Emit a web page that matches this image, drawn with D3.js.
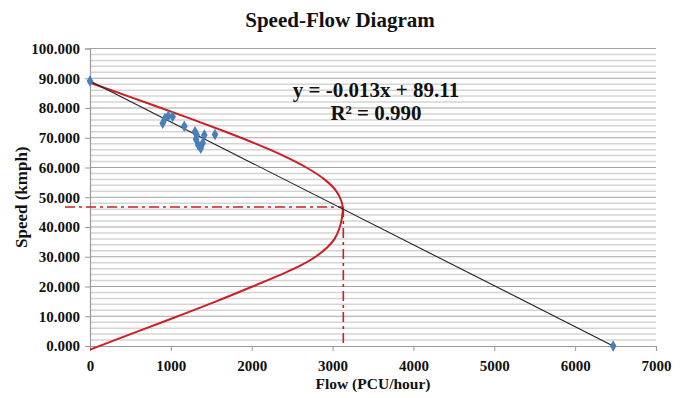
<!DOCTYPE html>
<html>
<head>
<meta charset="utf-8">
<script src="https://cdn.jsdelivr.net/npm/d3@7"></script>
<style>
  body { margin: 0; background: #fff; }
  text { font-family: "Liberation Serif", "Times New Roman", serif; font-weight: bold; fill: #111; }
</style>
</head>
<body>
<div id="chart"></div>
<script>
// observed points (flow PCU/hour, speed kmph)
const obsFlow  = [0, 899, 927, 968, 1022, 1166, 1299, 1320, 1311, 1339, 1369, 1394, 1414, 1546, 6470];
const obsSpeed = [89.1, 74.9, 76.5, 77.3, 77.1, 73.9, 72.0, 70.9, 69.5, 67.6, 66.5, 68.2, 70.9, 71.1, 0];

// linear trend line ends
const trendFlow  = [0, 6470];
const trendSpeed = [89.11, 0];

// red speed-flow curve, read from top branch down to bottom branch
const curveFlow  = [0, 468, 880, 1284, 1676, 2048, 2388, 2676, 2900, 3048, 3111, 3125,
                    3118, 3090, 3025, 2930, 2790, 2600, 2360, 2010, 1560, 1085, 600, 0];
const curveSpeed = [88.5, 84, 80, 76, 72, 68, 64, 60, 56, 52, 48.5, 46.7,
                    43.5, 40, 36, 33, 30, 27, 24, 20, 15, 10, 5, -1.2];

// capacity point (dash-dot guides)
const capFlow = 3133;
const capSpeed = 46.7;

const xTicks = [0, 1000, 2000, 3000, 4000, 5000, 6000, 7000];
const yTicks = [0, 10, 20, 30, 40, 50, 60, 70, 80, 90, 100];

const title = "Speed-Flow Diagram";
const eqText = "y = -0.013x + 89.11";
const r2Text = "R\u00b2 = 0.990";

const width = 680, height = 398;
const margin = {top: 48.5, right: 24, bottom: 52, left: 90};

const svg = d3.select("#chart").append("svg")
    .attr("width", width)
    .attr("height", height);

const x = d3.scaleLinear().domain([0, 7000]).range([margin.left, width - margin.right]);
const y = d3.scaleLinear().domain([0, 100]).range([height - margin.bottom, margin.top]);

// gridlines: minor every 2, major every 10
const minor = d3.range(2, 100, 2).filter(d => d % 10 !== 0);
svg.append("g").selectAll("line")
    .data(minor)
    .enter().append("line")
    .attr("x1", x(0)).attr("x2", x(7000))
    .attr("y1", d => y(d)).attr("y2", d => y(d))
    .attr("stroke", "#d4d4d4")
    .attr("stroke-width", 1.5);

svg.append("g").selectAll("line")
    .data(yTicks.filter(d => d > 0))
    .enter().append("line")
    .attr("x1", x(0)).attr("x2", x(7000))
    .attr("y1", d => y(d)).attr("y2", d => y(d))
    .attr("stroke", "#a3a3a3")
    .attr("stroke-width", 1.2);

// axes
const xAxis = svg.append("g")
    .attr("transform", `translate(0,${y(0)})`)
    .call(d3.axisBottom(x).tickValues(xTicks).tickSize(5).tickFormat(d3.format("d")));
const yAxis = svg.append("g")
    .attr("transform", `translate(${x(0)},0)`)
    .call(d3.axisLeft(y).tickValues(yTicks).tickSize(5).tickFormat(d3.format(".3f")));

[xAxis, yAxis].forEach(a => {
    a.select(".domain").attr("stroke", "#999").attr("stroke-width", 1.2);
    a.selectAll(".tick line").attr("stroke", "#999");
    a.selectAll("text")
        .attr("font-family", "Liberation Serif, serif")
        .attr("font-weight", "bold")
        .attr("font-size", 15)
        .attr("fill", "#111");
});
xAxis.selectAll("text").attr("dy", null).attr("y", 25);
yAxis.selectAll("text").attr("x", -10);

// dash-dot capacity guides
const red = "#cc1f24";
svg.append("line")
    .attr("x1", 65).attr("x2", x(capFlow))
    .attr("y1", y(capSpeed)).attr("y2", y(capSpeed))
    .attr("stroke", red).attr("stroke-width", 1.6)
    .attr("stroke-dasharray", "10,4,3,4");
svg.append("line")
    .attr("x1", x(capFlow)).attr("x2", x(capFlow))
    .attr("y1", y(capSpeed)).attr("y2", y(0))
    .attr("stroke", red).attr("stroke-width", 1.6)
    .attr("stroke-dasharray", "10,4,3,4");

// red model curve
const curvePts = curveFlow.map((f, i) => [f, curveSpeed[i]]);
svg.append("path")
    .datum(curvePts)
    .attr("fill", "none")
    .attr("stroke", red)
    .attr("stroke-width", 2)
    .attr("d", d3.line().x(d => x(d[0])).y(d => y(d[1])).curve(d3.curveCatmullRom.alpha(0.5)));

// black trend line
const trendPts = trendFlow.map((f, i) => [f, trendSpeed[i]]);
svg.append("path")
    .datum(trendPts)
    .attr("fill", "none")
    .attr("stroke", "#222")
    .attr("stroke-width", 1.1)
    .attr("d", d3.line().x(d => x(d[0])).y(d => y(d[1])));

// observed points
svg.append("g").selectAll("path")
    .data(obsFlow.map((f, i) => [f, obsSpeed[i]]))
    .enter().append("path")
    .attr("transform", d => `translate(${x(d[0])},${y(d[1])})`)
    .attr("d", d3.symbol().type(d3.symbolDiamond).size(38))
    .attr("fill", "#4a7ebb");

// title and labels
svg.append("text")
    .attr("x", 340).attr("y", 27)
    .attr("text-anchor", "middle")
    .attr("font-size", 21)
    .text(title);

svg.append("text")
    .attr("x", 376).attr("y", 97)
    .attr("text-anchor", "middle")
    .attr("font-size", 21)
    .text(eqText);
svg.append("text")
    .attr("x", 376).attr("y", 120)
    .attr("text-anchor", "middle")
    .attr("font-size", 21)
    .text(r2Text);

svg.append("text")
    .attr("x", (x(0) + x(7000)) / 2).attr("y", 389)
    .attr("text-anchor", "middle")
    .attr("font-size", 15.5)
    .text("Flow  (PCU/hour)");

svg.append("text")
    .attr("transform", `translate(27,${(y(0) + y(100)) / 2}) rotate(-90)`)
    .attr("text-anchor", "middle")
    .attr("font-size", 17)
    .text("Speed  (kmph)");
</script>
</body>
</html>
